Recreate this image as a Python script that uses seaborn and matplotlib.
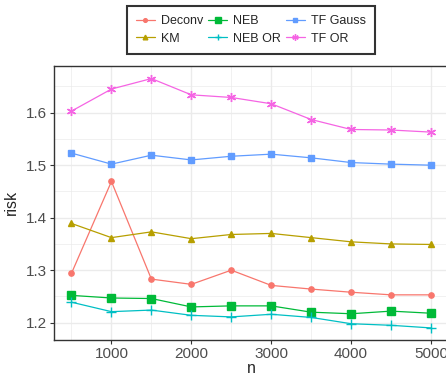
import matplotlib
matplotlib.use("Agg")
import matplotlib.pyplot as plt
import seaborn as sns
import pandas as pd
import numpy as np

n_vals = [500, 1000, 1500, 2000, 2500, 3000, 3500, 4000, 4500, 5000]
deconv = [1.294, 1.469, 1.283, 1.273, 1.300, 1.271, 1.264, 1.258, 1.253, 1.253]
km = [1.389, 1.362, 1.373, 1.360, 1.368, 1.370, 1.362, 1.354, 1.350, 1.349]
neb = [1.252, 1.247, 1.246, 1.230, 1.232, 1.232, 1.220, 1.217, 1.222, 1.218]
neb_or = [1.239, 1.221, 1.224, 1.214, 1.211, 1.216, 1.210, 1.198, 1.195, 1.190]
tf_gauss = [1.523, 1.502, 1.519, 1.510, 1.517, 1.521, 1.514, 1.505, 1.502, 1.500]
tf_or = [1.603, 1.645, 1.665, 1.634, 1.629, 1.617, 1.587, 1.568, 1.567, 1.563]

methods = ["Deconv", "KM", "NEB", "NEB OR", "TF Gauss", "TF OR"]
series = [deconv, km, neb, neb_or, tf_gauss, tf_or]

df_list = []
for name, vals in zip(methods, series):
    df_list.append(pd.DataFrame({"n": n_vals, "risk": vals, "method": name}))
df = pd.concat(df_list, ignore_index=True)

palette = dict(zip(methods, ["#F8766D", "#B79F00", "#00BA38", "#00BFC4", "#619CFF", "#F564E3"]))
# ggplot-ish shapes: circle, triangle, square, plus, boxed square, asterisk
markers = dict(zip(methods, ["o", "^", "s", "+", "s", (6, 2, 0)]))
msizes = dict(zip(methods, [3.8, 4.8, 5.5, 6.5, 5, 6.5]))

sns.set_theme(style="white")
plt.rcParams["font.family"] = ["Liberation Sans", "DejaVu Sans"]

fig = plt.figure(figsize=(4.46, 3.77), dpi=100)
ax = fig.add_axes([53.5 / 446, 1 - 340 / 377, (449 - 53.5) / 446, (340 - 65.7) / 377])

for m in methods:
    sub = df[df["method"] == m]
    sns.lineplot(data=sub, x="n", y="risk", color=palette[m], marker=markers[m],
                 linewidth=0.9, markersize=msizes[m], markeredgewidth=1.0,
                 markeredgecolor=palette[m], ax=ax)

ax.set_xlim(275, 5225)
ax.set_ylim(1.167, 1.6895)
ax.set_xticks([1000, 2000, 3000, 4000, 5000])
ax.set_xticks([500, 1500, 2500, 3500, 4500], minor=True)
ax.set_yticks([1.2, 1.3, 1.4, 1.5, 1.6])
ax.set_yticks([1.25, 1.35, 1.45, 1.55, 1.65], minor=True)
ax.grid(True, which="major", color="#EBEBEB", linewidth=1.0)
ax.grid(True, which="minor", color="#EBEBEB", linewidth=0.5)
ax.set_axisbelow(True)
for sp in ax.spines.values():
    sp.set_color("#333333")
    sp.set_linewidth(1.0)
ax.tick_params(axis="both", which="major", length=3, width=0.8, color="#333333",
               labelsize=11, labelcolor="#4D4D4D", pad=2, bottom=True, left=True)
ax.tick_params(axis="both", which="minor", length=0)
ax.set_xlabel("n", fontsize=11.5, labelpad=0)
ax.set_ylabel("risk", fontsize=11.5, labelpad=5)

handles = []
for m in methods:
    h, = ax.plot([], [], color=palette[m], marker=markers[m], linewidth=0.9,
                 markersize=msizes[m] * 0.7, markeredgecolor=palette[m], label=m)
    handles.append(h)
leg = fig.legend(handles=handles, labels=methods, ncol=3, loc="center",
                 bbox_to_anchor=(251 / 446, 1 - 30 / 377), fontsize=9,
                 frameon=True, fancybox=False, handlelength=1.5,
                 columnspacing=0.4, handletextpad=0.5, borderpad=0.7,
                 labelspacing=0.45)
leg.get_frame().set_edgecolor("black")
leg.get_frame().set_linewidth(1.5)

fig.savefig("out.png", dpi=100)
